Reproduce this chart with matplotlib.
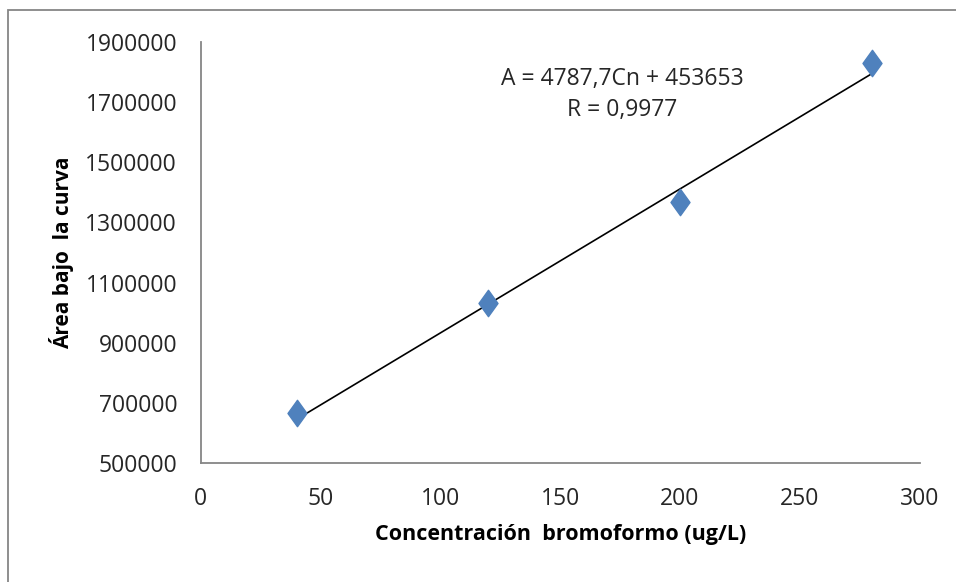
import numpy as np
import matplotlib; matplotlib.use("Agg")
import matplotlib.pyplot as plt
from matplotlib.path import Path
from matplotlib.patches import Rectangle

plt.rcParams.update({"font.family": ["Open Sans", "DejaVu Sans"], "font.size": 15})

# calibration points
conc = [40, 120, 200, 280]
area = [666000, 1032000, 1368000, 1830000]
# trendline as printed on the chart
slope, intercept = 4787.7, 453653
eq_text = "A = 4787,7Cn + 453653\nR = 0,9977"
xticks = [0, 50, 100, 150, 200, 250, 300]
yticks = [500000, 700000, 900000, 1100000, 1300000, 1500000, 1700000, 1900000]

BLUE = "#4F81BD"
GRAY = "#868686"
diamond = Path([(0, 1), (0.72, 0), (0, -1), (-0.72, 0), (0, 1)],
               [Path.MOVETO, Path.LINETO, Path.LINETO, Path.LINETO, Path.CLOSEPOLY])

fig = plt.figure(figsize=(9.56, 5.82), dpi=100)
ax = fig.add_axes([0.210, 0.2045, 0.752, 0.7235])

# chart-area border (left/top visible, rest cut off like the source)
fig.patches.append(Rectangle((8 / 956, -0.1), 1.2, 1.1 - 10 / 582, transform=fig.transFigure,
                             fill=False, ec=GRAY, lw=1.3))

xs = np.array([min(conc), max(conc)])
ax.plot(xs, slope * xs + intercept, color="black", lw=1.2, zorder=2)
ax.plot(conc, area, ls="none", marker=diamond, ms=19, color=BLUE, zorder=3)

ax.text(0.586, 0.876, eq_text, transform=ax.transAxes, ha="center", va="center",
        fontsize=16.5, color="#262626", linespacing=1.4)

ax.set_xlim(0, 300)
ax.set_ylim(500000, 1900000)
ax.set_xticks(xticks)
ax.set_yticks(yticks)
ax.set_yticklabels([str(v) for v in yticks])
ax.tick_params(length=0, labelsize=16.5, labelcolor="#262626")
ax.tick_params(axis="y", pad=17)
ax.tick_params(axis="x", pad=17)
for s in ("top", "right"):
    ax.spines[s].set_visible(False)
for s in ("left", "bottom"):
    ax.spines[s].set_color(GRAY)
    ax.spines[s].set_linewidth(1.3)

ax.set_xlabel("Concentración  bromoformo (ug/L)", fontsize=15.5, fontweight="bold", labelpad=10)
ax.set_ylabel("Área bajo  la curva", fontsize=15, fontweight="bold", labelpad=8)

fig.savefig("out.png", dpi=100)
